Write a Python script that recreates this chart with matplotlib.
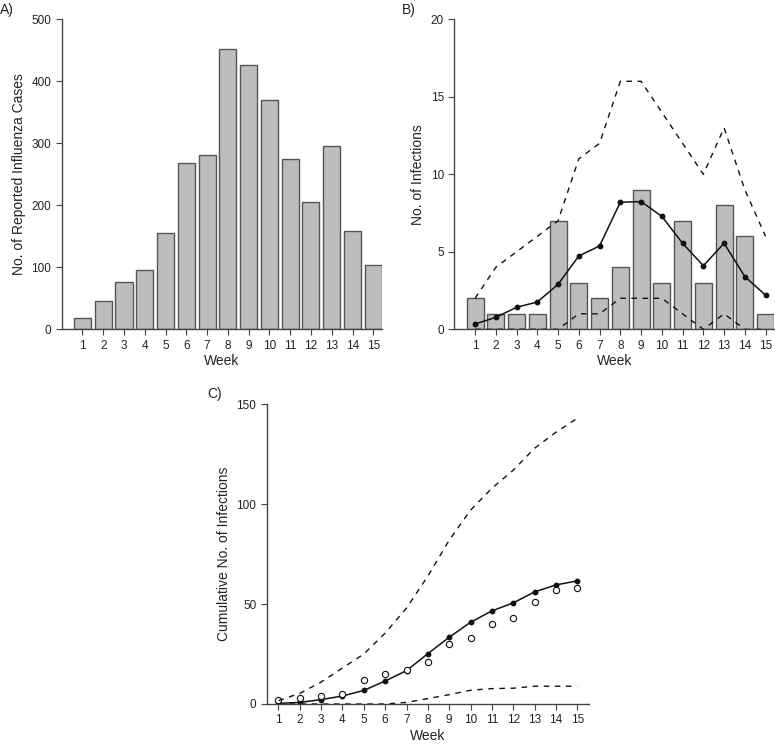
import matplotlib
matplotlib.use("Agg")
import matplotlib.pyplot as plt
import numpy as np

plt.rcParams['font.family'] = ['Liberation Sans', 'DejaVu Sans']

# data
weeks = np.arange(1, 16)
reported_cases = [18, 45, 76, 95, 156, 268, 281, 452, 426, 370, 275, 205, 295, 158, 103]
infections = [2, 1, 1, 1, 7, 3, 2, 4, 9, 3, 7, 3, 8, 6, 1]
est_mean = [0.34, 0.77, 1.42, 1.76, 2.9, 4.73, 5.38, 8.2, 8.24, 7.29, 5.55, 4.1, 5.55, 3.4, 2.2]
est_upper = [2, 4, 5, 6, 7, 11, 12, 16, 16, 14, 12, 10, 13, 9, 6]
est_lower = [0, 0, 0, 0, 0, 1, 1, 2, 2, 2, 1, 0, 1, 0, 0]
cum_mean = [0.3, 0.8, 2.2, 4.0, 6.8, 11.5, 16.7, 25.2, 33.4, 40.9, 46.6, 50.6, 56.1, 59.6, 61.6]
cum_observed = [2, 3, 4, 5, 12, 15, 17, 21, 30, 33, 40, 43, 51, 57, 58]
cum_upper = [1.7, 5.3, 11, 18, 25, 35.5, 48, 64, 82, 97, 108, 117, 128, 136, 143]
cum_lower = [0, 0, 0, 0, 0, 0, 0.8, 2.7, 4.7, 6.9, 7.7, 7.9, 8.9, 8.9, 8.9]

axcol = '#444444'
barcol = '#bdbdbd'
edgecol = '#555555'

fig = plt.figure(figsize=(7.75, 7.44), dpi=100)
W, H = 775, 744


def add_ax(left, top, right, bottom):
    return fig.add_axes([left / W, 1 - bottom / H, (right - left) / W, (bottom - top) / H])


def style(ax):
    for s in ['top', 'right']:
        ax.spines[s].set_visible(False)
    for s in ['left', 'bottom']:
        ax.spines[s].set_color(axcol)
        ax.spines[s].set_linewidth(1.0)
    ax.tick_params(colors=axcol, labelcolor='#222222', labelsize=8.5, length=4, width=0.8)
    ax.set_xticks(weeks)
    ax.set_xlabel('Week', fontsize=10, color='#222222', labelpad=2)


# A) reported cases
axA = add_ax(61.7, 19.3, 382, 329.3)
axA.bar(weeks, reported_cases, width=0.82, color=barcol, edgecolor=edgecol, linewidth=1)
axA.set_xlim(0, 15.42)
axA.set_ylim(0, 500)
axA.set_yticks([0, 100, 200, 300, 400, 500])
style(axA)
axA.set_ylabel('No. of Reported Influenza Cases', fontsize=10, color='#222222')

# B) estimated infections
axB = add_ax(454.3, 19.3, 774.3, 329.3)
axB.bar(weeks, infections, width=0.82, color=barcol, edgecolor=edgecol, linewidth=1)
axB.plot(weeks, est_mean, color='#111111', lw=1.1, marker='o', ms=3.2)
axB.plot(weeks, est_upper, color='#111111', lw=1.0, ls=(0, (4, 4)))
axB.plot(weeks, est_lower, color='#111111', lw=1.0, ls=(0, (4, 4)))
axB.set_xlim(0, 15.42)
axB.set_ylim(0, 20)
axB.set_yticks([0, 5, 10, 15, 20])
style(axB)
axB.set_ylabel('No. of Infections', fontsize=10, color='#222222')

# C) cumulative infections
axC = add_ax(266.7, 404.3, 589, 704)
axC.plot(weeks, cum_mean, color='#111111', lw=1.1, marker='o', ms=3.2)
axC.plot(weeks, cum_observed, ls='none', marker='o', ms=4.5, mfc='white', mec='#111111', mew=0.8)
axC.plot(weeks, cum_upper, color='#111111', lw=1.0, ls=(0, (4, 4)))
axC.plot(weeks, cum_lower, color='#111111', lw=1.0, ls=(0, (4, 4)))
axC.set_xlim(0.45, 15.55)
axC.set_ylim(0, 150)
axC.set_yticks([0, 50, 100, 150])
style(axC)
axC.set_ylabel('Cumulative No. of Infections', fontsize=10, color='#222222')

fig.text(0 / W, 1 - 3 / H, 'A)', fontsize=10, va='top', ha='left', color='#222222')
fig.text(402 / W, 1 - 3 / H, 'B)', fontsize=10, va='top', ha='left', color='#222222')
fig.text(207 / W, 1 - 387 / H, 'C)', fontsize=10, va='top', ha='left', color='#222222')

plt.savefig('out.png', dpi=100)
